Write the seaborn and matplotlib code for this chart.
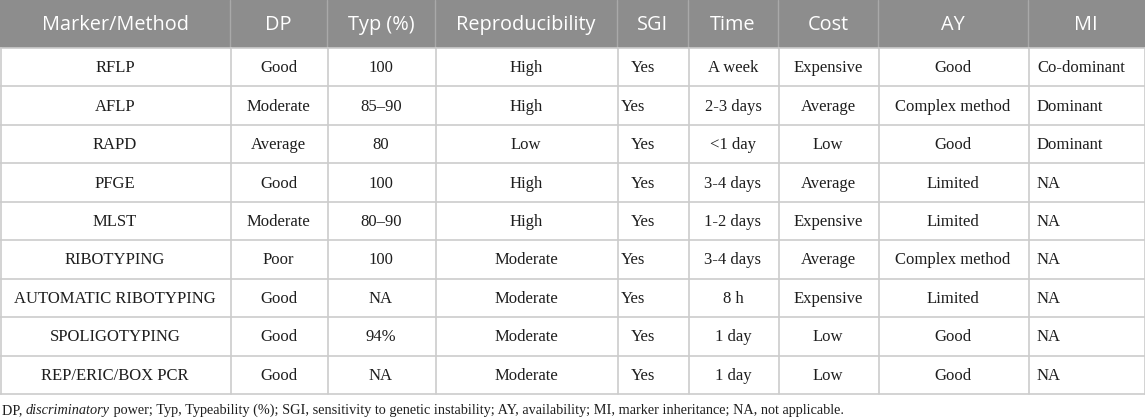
import matplotlib
matplotlib.use("Agg")
import matplotlib.pyplot as plt
import seaborn as sns

columns = ["Marker/Method", "DP", "Typ (%)", "Reproducibility", "SGI", "Time", "Cost", "AY", "MI"]
methods = ["RFLP", "AFLP", "RAPD", "PFGE", "MLST", "RIBOTYPING", "AUTOMATIC RIBOTYPING",
           "SPOLIGOTYPING", "REP/ERIC/BOX PCR"]
dp = ["Good", "Moderate", "Average", "Good", "Moderate", "Poor", "Good", "Good", "Good"]
typ = ["100", "85–90", "80", "100", "80–90", "100", "NA", "94%", "NA"]
repro = ["High", "High", "Low", "High", "High", "Moderate", "Moderate", "Moderate", "Moderate"]
sgi = ["Yes"] * 9
time_ = ["A week", "2-3 days", "<1 day", "3-4 days", "1-2 days", "3-4 days", "8 h", "1 day", "1 day"]
cost = ["Expensive", "Average", "Low", "Average", "Expensive", "Average", "Expensive", "Low", "Low"]
ay = ["Good", "Complex method", "Good", "Limited", "Limited", "Complex method", "Limited", "Good", "Good"]
mi = ["Co-dominant", "Dominant", "Dominant", "NA", "NA", "NA", "NA", "NA", "NA"]
footnote_parts = [("DP, ", "normal"), ("discriminatory", "italic"),
                  (" power; Typ, Typeability (%); SGI, sensitivity to genetic instability; AY, availability; "
                   "MI, marker inheritance; NA, not applicable.", "normal")]

sns.set_theme(style="white")
plt.rcParams["font.family"] = ["DejaVu Sans"]

W, H = 1145, 419
fig = plt.figure(figsize=(W / 100, H / 100), dpi=100)
ax = fig.add_axes([0, 0, 1, 1])
ax.set_xlim(0, W)
ax.set_ylim(H, 0)
ax.axis("off")

col_edges = [0, 230, 327, 435, 617, 688, 778, 878, 1028, 1144]
head_top, head_bot = 0, 48
row_h = (394 - 48) / 9
header_color = "#8d8d8d"
grid_color = "#cccccc"
text_color = "#1e1e1e"

table = [methods, dp, typ, repro, sgi, time_, cost, ay, mi]

# header background
ax.add_patch(plt.Rectangle((0, head_top), W, head_bot - head_top, color=header_color, lw=0, zorder=1))
for xe in col_edges[1:-1]:
    ax.plot([xe, xe], [head_top, head_bot], color="#a9a9a9", lw=1, zorder=2)
for j, name in enumerate(columns):
    cx = (col_edges[j] + col_edges[j + 1]) / 2
    ax.text(cx, (head_top + head_bot) / 2 + 1, name, ha="center", va="center",
            fontsize=14.3, color="white", family="Open Sans", zorder=3)

# body grid
nrows = len(methods)
for i in range(nrows + 1):
    y = head_bot + i * row_h
    ax.plot([0, W], [y, y], color=grid_color, lw=1.2, zorder=2)
for xe in col_edges:
    ax.plot([xe + 0.5, xe + 0.5], [head_bot, head_bot + nrows * row_h], color=grid_color, lw=1.2, zorder=2)

sgi_left_rows = {1, 5, 6}
for j, col in enumerate(table):
    for i, val in enumerate(col):
        cy = head_bot + (i + 0.5) * row_h + 1
        if j == 8:
            x, ha = col_edges[j] + 9, "left"
        elif j == 4:
            if i in sgi_left_rows:
                x, ha = col_edges[j] + 4, "left"
            else:
                x, ha = 643, "center"
        else:
            x, ha = (col_edges[j] + col_edges[j + 1]) / 2, "center"
        ax.text(x, cy, val, ha=ha, va="center", fontsize=12, color=text_color,
                family="Liberation Serif", zorder=3)

# footnote with mixed styles
fig.canvas.draw()
renderer = fig.canvas.get_renderer()
x = 2
inv = ax.transData.inverted()
for txt, style in footnote_parts:
    t = ax.text(x, 414, txt, ha="left", va="baseline", fontsize=10.3, style=style,
                color=text_color, family="Liberation Serif")
    bb = t.get_window_extent(renderer=renderer)
    x = inv.transform((bb.x1, bb.y0))[0]

fig.savefig("out.png", dpi=100)
